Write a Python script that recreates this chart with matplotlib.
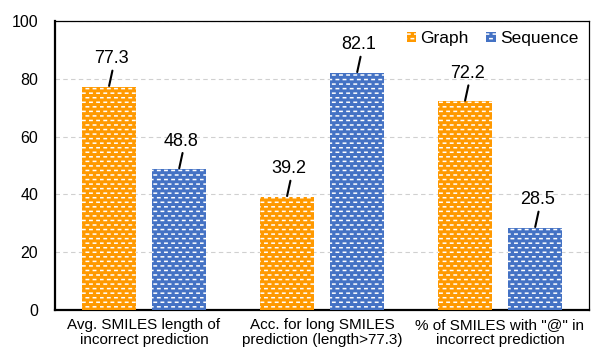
import numpy as np
import matplotlib
matplotlib.use("Agg")
import matplotlib.pyplot as plt
import matplotlib.hatch as mhatch
from matplotlib.hatch import HatchPatternBase
from matplotlib.path import Path

categories = ["Avg. SMILES length of\nincorrect prediction",
              "Acc. for long SMILES\nprediction (length>77.3)",
              "% of SMILES with \"@\" in\nincorrect prediction"]
graph_vals = [77.3, 39.2, 72.2]
seq_vals = [48.8, 82.1, 28.5]
series_names = ["Graph", "Sequence"]
yticks = [0, 20, 40, 60, 80, 100]


class BrickDash(HatchPatternBase):
    """Staggered short horizontal dashes (replaces the '-' hatch)."""
    def __init__(self, hatch, density):
        c = hatch.count('-') + hatch.count('+')
        n = 22 if c else 0
        self.num_rows = n
        self.num_cols = 14 if n else 0
        self.num_vertices = self.num_rows * self.num_cols * 2

    def set_vertices_and_codes(self, vertices, codes):
        N, M = self.num_rows, self.num_cols
        k = 0
        for i in range(N):
            y = (i + 0.5) / N
            off = 0.0 if i % 2 == 0 else 0.5 / M
            for j in range(M):
                x0 = j / M + off + 0.07 / M
                x1 = x0 + 0.33 / M
                vertices[k] = (x0, y)
                vertices[k + 1] = (x1, y)
                codes[k] = Path.MOVETO
                codes[k + 1] = Path.LINETO
                k += 2


mhatch._hatch_types[0] = BrickDash

plt.rcParams['font.family'] = ['Liberation Sans', 'DejaVu Sans']
plt.rcParams['hatch.linewidth'] = 1.1

fig = plt.figure(figsize=(5.91, 3.47), dpi=100)
ax = fig.add_axes([0.0931, 0.1066, 0.9035, 0.8329])

x = np.arange(len(categories))
w = 0.306
off = 0.197
orange = "#FF9900"
blue = "#4472C4"

b1 = ax.bar(x - off, graph_vals, w, color=orange, edgecolor="white",
            linewidth=0, hatch="----", label=series_names[0], zorder=3)
b2 = ax.bar(x + off, seq_vals, w, color=blue, edgecolor="white",
            linewidth=0, hatch="----", label=series_names[1], zorder=3)

for xs, vals in ((x - off, graph_vals), (x + off, seq_vals)):
    for xi, v in zip(xs, vals):
        ax.annotate("", xy=(xi, v), xytext=(2.5, 11.5),
                    textcoords="offset points",
                    arrowprops=dict(arrowstyle="-", lw=1.5, color="black",
                                    shrinkA=0, shrinkB=0.5), zorder=4)
        ax.annotate(f"{v:.1f}", xy=(xi, v), xytext=(1.5, 20),
                    textcoords="offset points", ha="center", va="center",
                    fontsize=13, color="black", zorder=4)

ax.set_xlim(-0.5, len(categories) - 0.5)
ax.set_ylim(0, 100)
ax.set_yticks(yticks)
ax.set_yticklabels([str(t) for t in yticks], fontsize=11.5)
ax.set_xticks(x)
ax.set_xticklabels(categories, fontsize=11, linespacing=1.1)
ax.tick_params(axis="y", length=0, pad=12)
ax.tick_params(axis="x", length=0, pad=6)

ax.yaxis.grid(True, linestyle=(0, (4, 3)), color="#d0d0d0", lw=0.8, zorder=0)
ax.set_axisbelow(True)

for s in ("left", "bottom"):
    ax.spines[s].set_linewidth(1.6)
    ax.spines[s].set_color("black")
for s in ("top", "right"):
    ax.spines[s].set_linewidth(0.9)
    ax.spines[s].set_color("black")

leg = ax.legend(loc="upper right", bbox_to_anchor=(1.0, 1.0), ncol=2,
                frameon=False, fontsize=12.5, handlelength=0.55,
                handleheight=0.55, handletextpad=0.25, columnspacing=1.0,
                borderaxespad=0.2)

fig.savefig("out.png", dpi=100)
